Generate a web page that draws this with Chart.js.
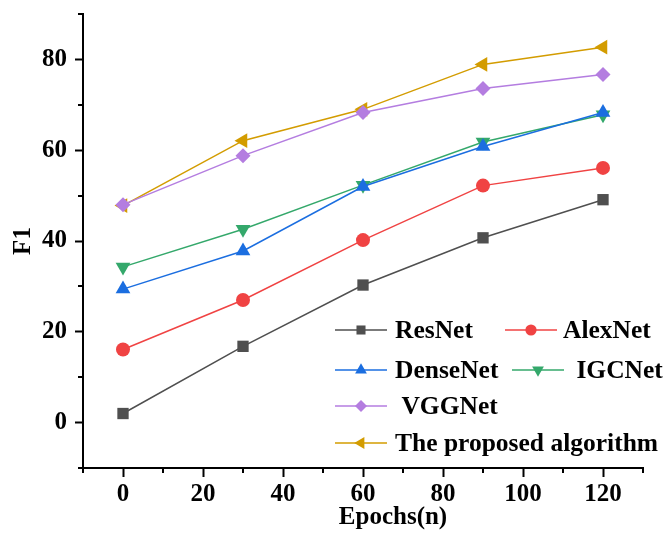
<!DOCTYPE html>
<html>
<head>
<meta charset="utf-8">
<script src="https://cdn.jsdelivr.net/npm/chart.js@4"></script>
<style>
  html, body { margin: 0; padding: 0; background: #fff; }
  #wrap { width: 664px; height: 535px; }
</style>
</head>
<body>
<div id="wrap"><canvas id="f1Chart" width="664" height="535"></canvas></div>
<script>
// ---- data ----
const epochs = [0, 30, 60, 90, 120];
const resnet = [2.0, 16.8, 30.3, 40.7, 49.1];
const alexnet = [16.1, 27.0, 40.2, 52.2, 56.1];
const densenet = [29.4, 37.8, 52.0, 60.8, 68.3];
const igcnet = [34.3, 42.6, 52.3, 61.8, 67.8];
const vggnet = [48.0, 58.8, 68.3, 73.6, 76.7];
const proposed = [47.8, 62.1, 69.0, 78.9, 82.7];

const xTicks = [0, 20, 40, 60, 80, 100, 120];
const yTicks = [0, 20, 40, 60, 80];
const xMinor = [-10, 10, 30, 50, 70, 90, 110, 130];
const yMinor = [-10, 10, 30, 50, 70, 90];

const FONT = '"Liberation Serif", "Times New Roman", serif';

function series(label, values, color, style, rotation, radius) {
    return {
        label: label,
        data: epochs.map((x, i) => ({ x: x, y: values[i] })),
        borderColor: color,
        backgroundColor: color,
        borderWidth: 1.5,
        pointStyle: style,
        rotation: rotation,
        pointRadius: radius,
        pointBorderWidth: 0,
        pointBackgroundColor: color
    };
}

const datasets = [
    series('ResNet', resnet, '#4f4f4f', 'rect', 0, 8),
    series('AlexNet', alexnet, '#f04343', 'circle', 0, 7),
    series('DenseNet', densenet, '#1b6ee0', 'triangle', 0, 8.5),
    series('IGCNet', igcnet, '#34a86b', 'triangle', 180, 8.5),
    series('VGGNet', vggnet, '#b47de0', 'rectRot', 0, 7.5),
    series('The proposed algorithm', proposed, '#d39c00', 'triangle', 270, 8.5)
];

// legend slots: [dataset index, line start x, text x, row y, leading space]
const legendSlots = [
    [0, 335, 395, 330, ''],
    [1, 505, 563, 330, ''],
    [2, 335, 395, 370, ''],
    [3, 512, 570, 370, ' '],
    [4, 335, 395, 406, ' '],
    [5, 335, 395, 443, '']
];

const decorPlugin = {
    id: 'decor',
    afterDraw(chart) {
        const ctx = chart.ctx;
        const xs = chart.scales.x, ys = chart.scales.y;
        const area = chart.chartArea;
        ctx.save();
        // minor ticks
        ctx.strokeStyle = '#000';
        ctx.lineWidth = 2;
        ctx.beginPath();
        xMinor.forEach(v => {
            const px = Math.round(xs.getPixelForValue(v));
            ctx.moveTo(px, area.bottom);
            ctx.lineTo(px, area.bottom + 5);
        });
        yMinor.forEach(v => {
            const py = Math.round(ys.getPixelForValue(v));
            ctx.moveTo(area.left, py);
            ctx.lineTo(area.left - 5, py);
        });
        ctx.stroke();

        // axis titles
        ctx.fillStyle = '#000';
        ctx.font = 'bold 25px ' + FONT;
        ctx.textAlign = 'center';
        ctx.textBaseline = 'middle';
        ctx.fillText('Epochs(n)', 393, 518);
        ctx.save();
        ctx.translate(24, (area.top + area.bottom) / 2);
        ctx.rotate(-Math.PI / 2);
        ctx.fillText('F1', 0, 0);
        ctx.restore();

        // legend
        ctx.textAlign = 'left';
        legendSlots.forEach(([di, lx, tx, ry, pre]) => {
            const ds = chart.data.datasets[di];
            ctx.strokeStyle = ds.borderColor;
            ctx.lineWidth = 1.5;
            ctx.beginPath();
            ctx.moveTo(lx, ry);
            ctx.lineTo(lx + 52, ry);
            ctx.stroke();
            ctx.fillStyle = ds.borderColor;
            Chart.helpers.drawPoint(ctx, {
                pointStyle: ds.pointStyle,
                rotation: ds.rotation,
                radius: ds.pointRadius * 0.8,
                borderWidth: 0
            }, lx + 26, ry);
            ctx.fillStyle = '#000';
            ctx.font = 'bold 25.5px ' + FONT;
            ctx.fillText(pre + ds.label, tx, ry + 1);
        });
        ctx.restore();
    }
};

new Chart(document.getElementById('f1Chart').getContext('2d'), {
    type: 'line',
    data: { datasets: datasets },
    plugins: [decorPlugin],
    options: {
        responsive: false,
        animation: false,
        devicePixelRatio: 1,
        layout: { padding: { top: 14, right: 21, left: 0, bottom: 0 } },
        plugins: { legend: { display: false }, tooltip: { enabled: false } },
        scales: {
            x: {
                type: 'linear',
                min: -10,
                max: 130,
                afterBuildTicks: s => { s.ticks = xTicks.map(v => ({ value: v })); },
                afterFit: s => { s.height = 67; s.paddingLeft = 0; s.paddingRight = 0; },
                border: { color: '#000', width: 2 },
                grid: { drawOnChartArea: false, tickLength: 9, tickColor: '#000', tickWidth: 2 },
                ticks: { color: '#000', padding: 3, maxRotation: 0, font: { family: FONT, size: 25, weight: 'bold' } }
            },
            y: {
                type: 'linear',
                min: -10,
                max: 90,
                afterBuildTicks: s => { s.ticks = yTicks.map(v => ({ value: v })); },
                afterFit: s => { s.width = 83; s.paddingTop = 0; s.paddingBottom = 0; },
                border: { color: '#000', width: 2 },
                grid: { drawOnChartArea: false, tickLength: 8, tickColor: '#000', tickWidth: 2 },
                ticks: { color: '#000', padding: 8, font: { family: FONT, size: 25, weight: 'bold' } }
            }
        }
    }
});
</script>
</body>
</html>
